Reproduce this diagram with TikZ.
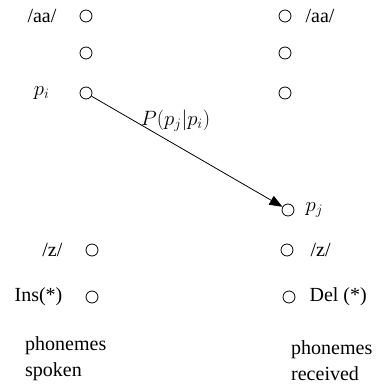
\documentclass[tikz,border=0pt]{standalone}
\usepackage{fontspec}
\setmainfont{Liberation Serif}
\usetikzlibrary{arrows.meta,positioning}

\begin{document}
\begin{tikzpicture}[
    x=1pt, y=-1pt,
    >={Triangle[length=13pt,width=10pt]},
    node distance=23pt,
    font=\rmfamily\fontsize{20}{26}\selectfont,
    phone/.style={draw, circle, line width=0.8pt,
        minimum size=12pt, inner sep=0pt},
    phonelbl/.style={inner sep=0pt},
    caption/.style={inner sep=0pt, align=left, anchor=west},
    confusion/.style={->, line width=0.8pt}
]
\useasboundingbox (0,0) rectangle (376,387);
% phonemes spoken
\node[phone] (S1) at (86,16) {};
\node[phone] (S2) at (86,53) {};
\node[phone] (Si) at (86,93) {};
\node[phone] (Sz) at (92,250) {};
\node[phone] (Sins) at (92,297) {};
% phonemes received
\node[phone] (R1) at (285,16) {};
\node[phone] (R2) at (285,53) {};
\node[phone] (R3) at (285,93) {};
\node[phone] (Rj) at (288,210) {};
\node[phone] (Rz) at (287,250) {};
\node[phone] (Rdel) at (289,297) {};
% labels
\node[phonelbl, left=of S1] (LS1) {/aa/};
\node[phonelbl, left=30pt of Si] (LSi) {$p_i$};
\node[phonelbl, left=of Sz] (LSz) {/z/};
\node[phonelbl, left=of Sins] (LSins) {Ins(*)};
\node[phonelbl, right=14pt of R1] (LR1) {/aa/};
\node[phonelbl, right=11pt of Rj] (LRj) {$p_j$};
\node[phonelbl, right=17pt of Rz] (LRz) {/z/};
\node[phonelbl, right=14pt of Rdel] (LRdel) {Del (*)};
\node[caption] (spoken) at (25,359) {phonemes\\spoken};
\node[caption] (received) at (291,361) {phonemes\\received};
\draw[confusion] (Si) -- (Rj)
    node[phonelbl, pos=0.44, above=13pt] (Pji) {$P(p_j|p_i)$};
\end{tikzpicture}
\end{document}
